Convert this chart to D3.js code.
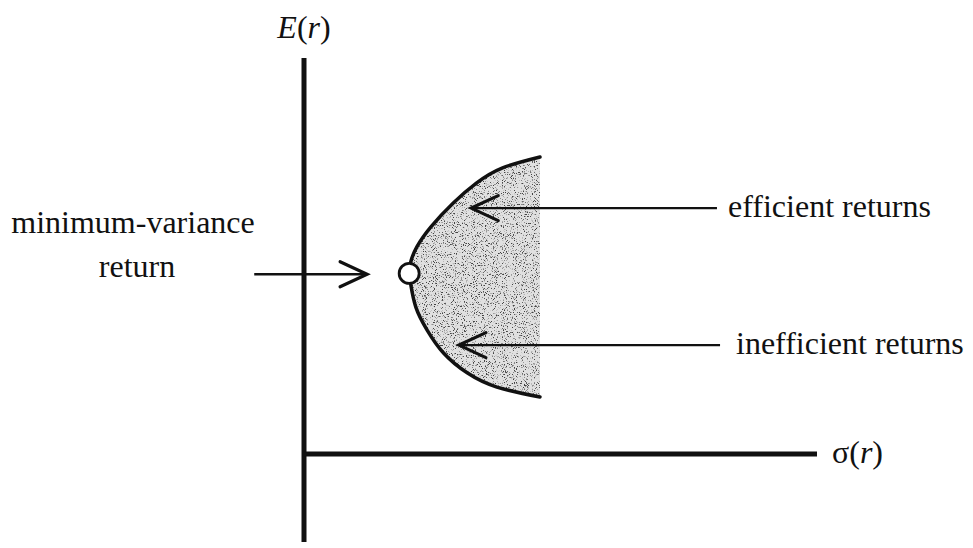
<!DOCTYPE html>
<html>
<head>
<meta charset="utf-8">
<script src="https://cdn.jsdelivr.net/npm/d3@7"></script>
<style>
  html, body { margin: 0; padding: 0; background: #fff; }
  svg { display: block; }
  text { font-family: "Liberation Serif", "Times New Roman", serif; fill: #111; }
</style>
</head>
<body>
<svg id="chart" width="973" height="548"></svg>
<script>
// Frontier points (sigma, expected return)
const frontierSigma  = [46.0, 38.6, 33.6, 29.1, 24.7, 22.0, 20.8, 20.5, 20.8, 21.8, 24.0, 27.2, 31.8, 37.6, 46.0];
const frontierReturn = [75.0, 72.2, 68.4, 63.4, 57.3, 52.3, 48.5, 45.7, 42.9, 37.1, 31.3, 25.5, 20.5, 16.9, 14.4];
// Minimum-variance point
const minVarSigma = [20.5];
const minVarReturn = [45.6];
// Annotation arrows: [from sigma, to sigma, at return]
const arrowNames  = ["efficient returns", "inefficient returns", "minimum-variance"];
const arrowFrom   = [80.5, 81.1, -9.7];
const arrowTo     = [32.6, 30.2, 12.3];
const arrowReturn = [62.1, 27.5, 45.4];
// Axis extents
const sigmaDomain  = [0, 100];
const returnDomain = [0, 100];
const returnAxisBottom = -22.2;

const svg = d3.select("#chart");
const x = d3.scaleLinear().domain(sigmaDomain).range([304, 817]);
const y = d3.scaleLinear().domain(returnDomain).range([454, 58]);

const defs = svg.append("defs");
const f = defs.append("filter").attr("id", "grain")
  .attr("x", 0).attr("y", 0).attr("width", "100%").attr("height", "100%");
f.append("feTurbulence").attr("type", "fractalNoise").attr("baseFrequency", 0.9)
  .attr("numOctaves", 2).attr("seed", 7).attr("result", "noise");
f.append("feColorMatrix").attr("in", "noise").attr("type", "matrix")
  .attr("values", "0 0 0 0 0  0 0 0 0 0  0 0 0 0 0  7 0 0 0 -4.0").attr("result", "specks");
f.append("feComposite").attr("in", "specks").attr("in2", "SourceGraphic").attr("operator", "in");

const pts = frontierSigma.map((s, i) => [s, frontierReturn[i]]);
const curveGen = d3.line().x(d => x(d[0])).y(d => y(d[1])).curve(d3.curveNatural);
const areaPath = curveGen(pts) + "Z";

// shaded feasible region
svg.append("path").attr("d", areaPath).attr("fill", "#e0e0e0");
svg.append("path").attr("d", areaPath).attr("fill", "#333").attr("filter", "url(#grain)").attr("opacity", 0.7);

// frontier curve
svg.append("path").attr("d", curveGen(pts)).attr("fill", "none")
  .attr("stroke", "#111").attr("stroke-width", 3.5).attr("stroke-linecap", "round");

// axes
svg.append("line").attr("x1", x(0)).attr("x2", x(0)).attr("y1", y(returnDomain[1])).attr("y2", y(returnAxisBottom))
  .attr("stroke", "#111").attr("stroke-width", 5);
svg.append("line").attr("x1", x(0)).attr("x2", x(sigmaDomain[1])).attr("y1", y(0)).attr("y2", y(0))
  .attr("stroke", "#111").attr("stroke-width", 5);

// arrows
arrowNames.forEach((n, i) => {
  const x1 = x(arrowFrom[i]), x2 = x(arrowTo[i]), yy = y(arrowReturn[i]);
  const dir = Math.sign(x2 - x1);
  svg.append("line").attr("x1", x1).attr("x2", x2).attr("y1", yy).attr("y2", yy)
    .attr("stroke", "#111").attr("stroke-width", 2.4);
  const back = 27 * dir, half = 12.5;
  svg.append("path")
    .attr("d", `M${x2 - back},${yy - half}L${x2},${yy}L${x2 - back},${yy + half}`)
    .attr("fill", "none").attr("stroke", "#111").attr("stroke-width", 3.2)
    .attr("stroke-linejoin", "miter").attr("stroke-linecap", "round");
});

// minimum-variance point
svg.append("circle").attr("cx", x(minVarSigma[0])).attr("cy", y(minVarReturn[0])).attr("r", 10)
  .attr("fill", "#fff").attr("stroke", "#111").attr("stroke-width", 2.8);

// labels
const fs = 32;
const er = svg.append("text").attr("x", 304).attr("y", 38).attr("text-anchor", "middle").attr("font-size", fs);
er.append("tspan").attr("font-style", "italic").text("E");
er.append("tspan").text("(");
er.append("tspan").attr("font-style", "italic").text("r");
er.append("tspan").text(")");

const sr = svg.append("text").attr("x", 832).attr("y", 463).attr("font-size", fs);
sr.append("tspan").text("σ(");
sr.append("tspan").attr("font-style", "italic").text("r");
sr.append("tspan").text(")");

svg.append("text").attr("x", 728).attr("y", 217).attr("font-size", fs).text("efficient returns");
svg.append("text").attr("x", 736).attr("y", 354).attr("font-size", fs).text("inefficient returns");
svg.append("text").attr("x", 133).attr("y", 233).attr("text-anchor", "middle").attr("font-size", fs).text("minimum-variance");
svg.append("text").attr("x", 137).attr("y", 277).attr("text-anchor", "middle").attr("font-size", fs).text("return");
</script>
</body>
</html>
